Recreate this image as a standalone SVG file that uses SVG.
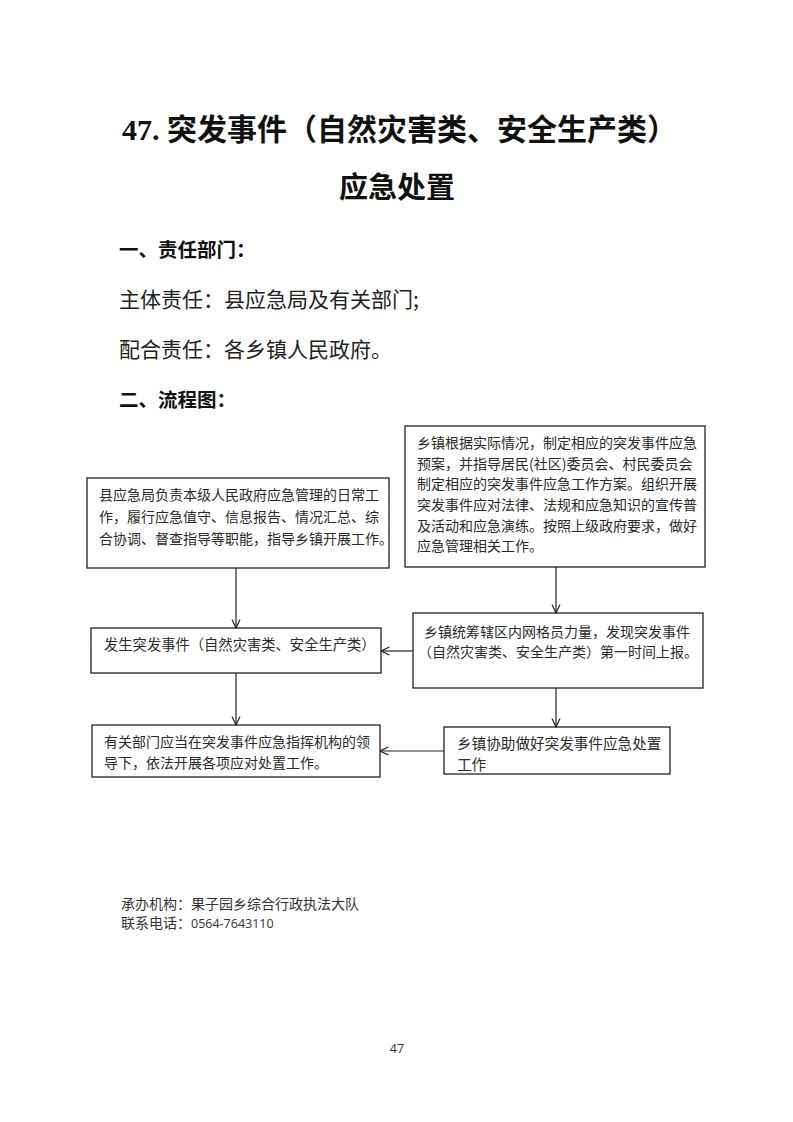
<svg xmlns="http://www.w3.org/2000/svg" width="793" height="1122" viewBox="0 0 793 1122">
<style>
.bg{fill:#ffffff}
.box{fill:#ffffff;stroke:#222;stroke-width:1.3}
.t{font-family:"Noto Sans CJK SC","Noto Sans",sans-serif;font-size:14px;fill:#2a2a2a}
.title{font-family:"Liberation Serif","Noto Sans CJK SC",serif;font-size:30px;font-weight:bold;fill:#111}
.h{font-family:"Noto Sans CJK SC",sans-serif;font-size:19.5px;font-weight:bold;fill:#111}
.p{font-family:"Noto Sans CJK SC",sans-serif;font-size:21px;fill:#222}
.f{font-family:"Noto Sans CJK SC",sans-serif;font-size:14px;fill:#333}
.fn{font-family:"Open Sans","Noto Sans CJK SC",sans-serif;font-size:12.5px;fill:#333}
.c{fill:none;stroke:#222;stroke-width:1.2}
</style>
<defs>
<marker id="arr" viewBox="0 0 10 10" refX="9.5" refY="5" markerWidth="10" markerHeight="10" markerUnits="userSpaceOnUse" orient="auto">
<path d="M1,1 L9.5,5 L1,9" fill="none" stroke="#222" stroke-width="1.2"/>
</marker>
</defs>
<rect class="bg" x="0" y="0" width="793" height="1122"/>

<g id="header">
<text class="title" x="122" y="140">47. 突发事件（自然灾害类、安全生产类）</text>
<text class="title" x="397" y="198" text-anchor="middle" style="font-size:29px">应急处置</text>
<text class="h" x="119" y="257">一、责任部门：</text>
<text class="p" x="119" y="307">主体责任：县应急局及有关部门;</text>
<text class="p" x="119" y="357">配合责任：各乡镇人民政府。</text>
<text class="h" x="119" y="407">二、流程图：</text>
</g>

<g id="node-county">
<rect class="box" x="87" y="478" width="302" height="90"/>
<text class="t" x="99" y="500">县应急局负责本级人民政府应急管理的日常工</text>
<text class="t" x="99" y="522">作，履行应急值守、信息报告、情况汇总、综</text>
<text class="t" x="99" y="544">合协调、督查指导等职能，指导乡镇开展工作。</text>
</g>

<g id="node-township-plan">
<rect class="box" x="405" y="426" width="300" height="141"/>
<text class="t" x="417" y="448">乡镇根据实际情况，制定相应的突发事件应急</text>
<text class="t" x="417" y="469">预案，并指导居民(社区)委员会、村民委员会</text>
<text class="t" x="417" y="489">制定相应的突发事件应急工作方案。组织开展</text>
<text class="t" x="417" y="510">突发事件应对法律、法规和应急知识的宣传普</text>
<text class="t" x="417" y="531">及活动和应急演练。按照上级政府要求，做好</text>
<text class="t" x="417" y="551">应急管理相关工作。</text>
</g>

<g id="node-event">
<rect class="box" x="91" y="628" width="290" height="45"/>
<text class="t" x="104" y="650" style="font-size:14.3px">发生突发事件（自然灾害类、安全生产类）</text>
</g>

<g id="node-township-report">
<rect class="box" x="413" y="613" width="290" height="75"/>
<text class="t" x="424" y="637">乡镇统筹辖区内网格员力量，发现突发事件</text>
<text class="t" x="418" y="657">（自然灾害类、安全生产类）第一时间上报。</text>
</g>

<g id="node-departments">
<rect class="box" x="92" y="725" width="288" height="52"/>
<text class="t" x="104" y="747">有关部门应当在突发事件应急指挥机构的领</text>
<text class="t" x="104" y="768">导下，依法开展各项应对处置工作。</text>
</g>

<g id="node-township-assist">
<rect class="box" x="444" y="727" width="226" height="47"/>
<text class="t" x="457" y="749" style="font-size:14.6px">乡镇协助做好突发事件应急处置</text>
<text class="t" x="457" y="770" style="font-size:14.6px">工作</text>
</g>

<g id="connectors">
<line class="c" x1="236" y1="568" x2="236" y2="628" marker-end="url(#arr)"/>
<line class="c" x1="556" y1="567" x2="556" y2="613" marker-end="url(#arr)"/>
<line class="c" x1="413" y1="651" x2="381" y2="651" marker-end="url(#arr)"/>
<line class="c" x1="236" y1="673" x2="236" y2="725" marker-end="url(#arr)"/>
<line class="c" x1="556" y1="688" x2="556" y2="727" marker-end="url(#arr)"/>
<line class="c" x1="444" y1="751" x2="380" y2="751" marker-end="url(#arr)"/>
</g>

<g id="footer">
<text class="f" x="121" y="909">承办机构：果子园乡综合行政执法大队</text>
<text class="f" x="121" y="928">联系电话：<tspan class="fn">0564-7643110</tspan></text>
<text class="fn" x="397" y="1053" text-anchor="middle">47</text>
</g>
</svg>
